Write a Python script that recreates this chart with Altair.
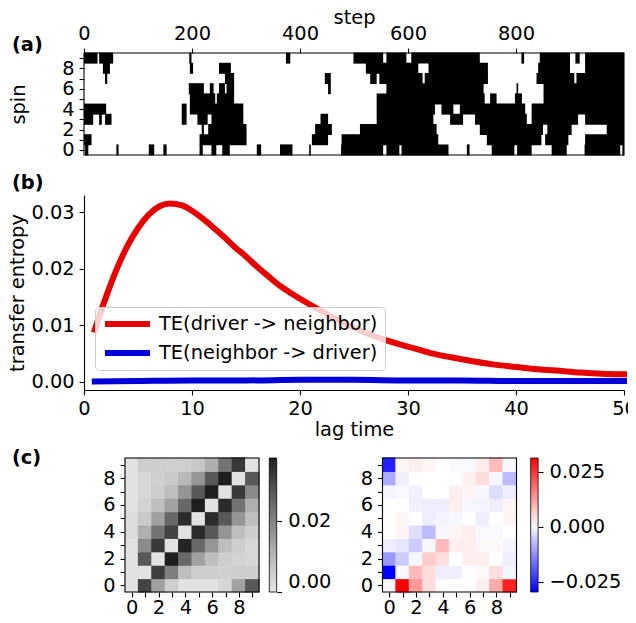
import altair as alt
import pandas as pd

FONT = "DejaVu Sans"
FS = 19.4

# ---------------- (a) spin raster: black runs (start step, end step) per spin row
row0 = [(2, 8), (60, 64), (120, 130), (147, 153), (214, 220), (236, 245), (256, 270), (320, 328),
        (363, 386), (417, 420), (476, 554), (560, 584), (588, 675), (709, 714), (755, 797),
        (802, 829), (866, 894), (927, 993), (997, 1000)]
row1 = [(0, 14), (214, 301), (422, 452), (477, 656), (746, 847), (854, 897), (928, 1000)]
row2 = [(218, 222), (230, 301), (428, 459), (511, 653), (733, 850), (858, 903), (968, 1000)]
row3 = [(0, 17), (28, 33), (39, 51), (181, 190), (210, 229), (236, 295), (438, 452), (542, 647),
        (678, 702), (724, 820), (829, 915), (928, 1000)]
row4 = [(0, 41), (181, 190), (196, 295), (542, 650), (662, 684), (696, 817), (829, 1000)]
row5 = [(196, 243), (246, 278), (542, 742), (752, 764), (798, 811), (851, 1000)]
row6 = [(194, 222), (233, 240), (250, 261), (264, 278), (452, 457), (560, 740), (801, 804), (851, 1000)]
row7 = [(39, 43), (261, 278), (446, 457), (530, 542), (547, 627), (631, 748), (838, 908), (912, 1000)]
row8 = [(35, 48), (196, 202), (250, 272), (522, 619), (638, 748), (841, 900), (928, 1000)]
row9 = [(0, 25), (28, 54), (195, 199), (374, 382), (499, 554), (560, 597), (606, 733), (810, 815),
        (844, 900), (910, 918), (928, 1000)]
spin_rows = [row0, row1, row2, row3, row4, row5, row6, row7, row8, row9]
step_range = [0, 1000]
step_ticks = [0, 200, 400, 600, 800]

# ---------------- (b) transfer entropy vs lag
LAB_DN = "TE(driver -> neighbor)"
LAB_ND = "TE(neighbor -> driver)"
lags_dn = [1, 2, 3, 4, 5, 6, 7, 8, 9, 10, 11, 12, 13, 14, 15, 16, 17, 18, 19, 20,
           22, 24, 26, 28, 30, 32, 34, 36, 38, 40, 42, 44, 46, 48, 50]
te_dn = [0.0092, 0.0148, 0.0198, 0.0240, 0.0272, 0.0296, 0.0311, 0.0316, 0.0313, 0.0303,
         0.0289, 0.0273, 0.0256, 0.0238, 0.0222, 0.0204, 0.0188, 0.0172, 0.0159, 0.0147,
         0.0125, 0.0105, 0.0087, 0.0073, 0.0062, 0.0051, 0.0043, 0.0036, 0.0030, 0.0026,
         0.0022, 0.0019, 0.0016, 0.0014, 0.0013]
lags_nd = [1, 5, 10, 15, 20, 25, 30, 35, 40, 45, 50]
te_nd = [0.0000, 0.0001, 0.0002, 0.0002, 0.0003, 0.0003, 0.0002, 0.0002, 0.0001, 0.0001, 0.0001]
lag_ticks = [0, 10, 20, 30, 40, 50]
te_ticks = [0.0, 0.01, 0.02, 0.03]

# ---------------- (c) pairwise matrices (row = spin i, col = spin j)
te_matrix = [
    [0, 0.0315, 0.0143, 0.0051, 0, 0, 0, 0.0030, 0.0143, 0.0278],
    [0, 0, 0.0323, 0.0206, 0.0086, 0.0051, 0.0051, 0.0047, 0.0051, 0.0051],
    [0, 0.0278, 0, 0.0375, 0.0251, 0.0143, 0.0086, 0.0051, 0.0039, 0.0030],
    [0, 0.0184, 0.0332, 0, 0.0364, 0.0251, 0.0165, 0.0086, 0.0051, 0.0030],
    [0.0015, 0.0116, 0.0229, 0.0315, 0, 0.0353, 0.0278, 0.0165, 0.0086, 0.0051],
    [0.0015, 0.0064, 0.0143, 0.0251, 0.0353, 0, 0.0353, 0.0278, 0.0165, 0.0086],
    [0, 0.0039, 0.0086, 0.0143, 0.0251, 0.0375, 0, 0.0353, 0.0229, 0.0116],
    [0, 0.0030, 0.0051, 0.0086, 0.0165, 0.0278, 0.0375, 0, 0.0332, 0.0184],
    [0, 0.0030, 0.0047, 0.0060, 0.0098, 0.0165, 0.0278, 0.0375, 0, 0.0278],
    [0, 0.0051, 0.0051, 0.0047, 0.0047, 0.0068, 0.0116, 0.0229, 0.0332, 0],
]
diff_matrix = [
    [0, 0.0311, 0.0130, 0.0049, 0.0008, 0.0008, 0.0009, 0.0029, 0.0110, 0.0271],
    [-0.0293, 0, 0.0090, 0.0049, -0.0011, -0.0011, 0.0009, 0.0017, 0.0049, -0.0003],
    [-0.0112, -0.0051, 0, 0.0069, 0.0049, 0.0009, 0.0029, 0.0029, 0.0009, -0.0011],
    [-0.0011, -0.0021, -0.0051, 0, 0.0090, 0.0029, 0.0029, 0.0017, 0.0017, -0.0003],
    [0.0009, 0.0021, -0.0031, -0.0072, 0, 0.0021, 0.0029, 0.0001, 0.0001, 0.0009],
    [0.0009, 0.0021, 0.0009, -0.0011, -0.0003, 0, 0.0009, -0.0011, 0.0009, 0.0021],
    [0.0009, 0.0009, -0.0009, -0.0011, -0.0011, 0.0029, 0, -0.0003, -0.0011, 0.0021],
    [-0.0003, 0.0001, -0.0009, 0.0009, 0.0009, 0.0029, 0.0021, 0, -0.0031, -0.0011],
    [-0.0092, -0.0011, 0.0009, 0.0009, 0.0009, 0.0009, 0.0025, 0.0049, 0, -0.0072],
    [-0.0253, 0.0021, 0.0029, 0.0021, 0.0009, 0.0001, 0.0001, 0.0029, 0.0090, 0],
]
te_range = [0, 0.0375]
diff_range = [-0.0293, 0.0009, 0.0311]
te_cbar_ticks = [0.0, 0.02]
diff_cbar_ticks = [-0.025, 0.0, 0.025]

RED = "#e60000"
BLUE = "#0000d8"
idx = list(range(10))
even_idx = [k for k in idx if k % 2 == 0]
odd_idx = [k for k in idx if k % 2 == 1]
HALF = 0.54  # cells drawn a hair wider than half a cell so neighbours leave no seam

# ---------------- layout (pixel ranges inside one plot area whose origin sits at the panel (a)/(b) corner)
W, H = 540, 539
C_TOP = 405
sx_a = alt.Scale(domain=step_range, range=[0, W], nice=False, zero=False)
sy_a = alt.Scale(domain=[-0.5, 9.5], range=[102, 0], nice=False, zero=False)
sx_b = alt.Scale(domain=[0, 50], range=[0, W], nice=False, zero=False)
sy_b = alt.Scale(domain=[-0.0015, 0.0331], range=[337, 142], nice=False, zero=False)
sx_l = alt.Scale(domain=[-0.5, 9.5], range=[41, 175], nice=False, zero=False)
sx_r = alt.Scale(domain=[-0.5, 9.5], range=[298.5, 432.5], nice=False, zero=False)
sy_c = alt.Scale(domain=[-0.5, 9.5], range=[H, C_TOP], nice=False, zero=False)
CB_W = 7.4
CB_L_X = 185.3
CB_R_X = 446.7

# ---------------- tables
df_a = pd.DataFrame([{"spin": r, "start": s, "end": e}
                     for r, runs in enumerate(spin_rows) for s, e in runs])
df_b = pd.concat([
    pd.DataFrame({"lag": lags_dn, "te": te_dn, "series": LAB_DN}),
    pd.DataFrame({"lag": lags_nd, "te": te_nd, "series": LAB_ND}),
], ignore_index=True)
df_odd = pd.DataFrame({"k": odd_idx})


def mat_df(m):
    return pd.DataFrame([{"i": r, "j": c, "v": m[r][c]} for r in range(10) for c in range(10)])


def frame(x0, x1, y0, y1, sx, sy):
    df = pd.DataFrame({"x0": [x0], "x1": [x1], "y0": [y0], "y1": [y1]})
    return alt.Chart(df).mark_rect(fill="transparent", stroke="black", strokeWidth=1.1).encode(
        x=alt.X("x0:Q", scale=sx, axis=None), x2="x1:Q",
        y=alt.Y("y0:Q", scale=sy, axis=None), y2="y1:Q")


def odd_ticks_y(sy, offset):
    # unlabelled minor ticks on the odd rows
    return alt.Chart(df_odd).mark_point(opacity=0).encode(
        y=alt.Y("k:Q", scale=sy, axis=alt.Axis(orient="left", offset=offset, values=odd_idx,
                                               labels=False, domain=False, title=None)))


def odd_ticks_x(sx):
    return alt.Chart(df_odd).mark_point(opacity=0).encode(
        x=alt.X("k:Q", scale=sx, axis=alt.Axis(orient="bottom", values=odd_idx,
                                               labels=False, domain=False, title=None)))


# ---------------- panel (a)
raster = alt.Chart(df_a).transform_calculate(
    y0=f"datum.spin - {HALF}", y1=f"datum.spin + {HALF}"
).mark_rect(color="black").encode(
    x=alt.X("start:Q", scale=sx_a,
            axis=alt.Axis(orient="top", values=step_ticks, format="d", title="step",
                          titlePadding=-4.2, domain=False)),
    x2="end:Q",
    y=alt.Y("y0:Q", scale=sy_a,
            axis=alt.Axis(orient="left", values=even_idx, title="spin",
                          titlePadding=33.4, domain=False)),
    y2="y1:Q",
)
frame_a = frame(step_range[0], step_range[1], -0.5, 9.5, sx_a, sy_a)

# ---------------- panel (b)
panel_b = alt.Chart(df_b).mark_line(strokeWidth=6, interpolate="monotone", strokeCap="square").encode(
    x=alt.X("lag:Q", scale=sx_b,
            axis=alt.Axis(orient="bottom", offset=-(H - 337), values=lag_ticks, format="d",
                          title="lag time", titlePadding=2)),
    y=alt.Y("te:Q", scale=sy_b,
            axis=alt.Axis(orient="left", values=te_ticks, format=".2f", title="transfer entropy",
                          titlePadding=3.3)),
    color=alt.Color("series:N", scale=alt.Scale(domain=[LAB_DN, LAB_ND], range=[RED, BLUE]),
                    legend=alt.Legend(title=None, orient="none", legendX=11, legendY=254,
                                      symbolType="stroke", symbolSize=2025, symbolStrokeWidth=6,
                                      clipHeight=20, rowPadding=9, labelOffset=6, padding=7,
                                      fillColor="rgba(255,255,255,0.8)", strokeColor="#cccccc",
                                      cornerRadius=4, labelLimit=400)),
)


# ---------------- panel (c)
def cells(m, sx, y_offset, cscale, legend):
    return alt.Chart(mat_df(m)).transform_calculate(
        x0=f"datum.j - {HALF}", x1=f"datum.j + {HALF}", y0=f"datum.i - {HALF}", y1=f"datum.i + {HALF}"
    ).mark_rect().encode(
        x=alt.X("x0:Q", scale=sx,
                axis=alt.Axis(orient="bottom", values=even_idx, domain=False,
                              labelPadding=2, title=None)),
        x2="x1:Q",
        y=alt.Y("y0:Q", scale=sy_c,
                axis=alt.Axis(orient="left", offset=y_offset, values=even_idx,
                              domain=False, title=None)),
        y2="y1:Q",
        color=alt.Color("v:Q", scale=cscale, legend=legend),
    )


def grad_legend(x, values, fmt):
    return alt.Legend(title=None, orient="none", legendX=x, legendY=C_TOP, direction="vertical",
                      type="gradient", gradientLength=H - C_TOP, gradientThickness=CB_W, values=values,
                      format=fmt, labelOffset=11.5, labelBaseline="middle", padding=0,
                      gradientStrokeColor="black", gradientStrokeWidth=0.8)


def cbar_ticks(values, domain, x_right):
    # tick marks on the right edge of a colour bar, placed by the colour bar's own value scale
    return alt.Chart(pd.DataFrame({"v": values})).mark_point(opacity=0).encode(
        y=alt.Y("v:Q", scale=alt.Scale(domain=[domain[0], domain[-1]], range=[H, C_TOP],
                                       nice=False, zero=False),
                axis=alt.Axis(orient="right", offset=x_right - W, values=values, labels=False,
                              domain=False, title=None)),
    )


cells_left = cells(te_matrix, sx_l, -41,
                   alt.Scale(scheme="greys", domain=te_range),
                   grad_legend(CB_L_X, te_cbar_ticks, ".2f"))
cells_right = cells(diff_matrix, sx_r, -298.5,
                    alt.Scale(domain=diff_range, range=["#0000ff", "#ffffff", "#ff0000"], interpolate="rgb"),
                    grad_legend(CB_R_X, diff_cbar_ticks, ".3f"))
frame_left = frame(-0.5, 9.5, -0.5, 9.5, sx_l, sy_c)
frame_right = frame(-0.5, 9.5, -0.5, 9.5, sx_r, sy_c)
ticks_left = cbar_ticks(te_cbar_ticks, te_range, CB_L_X + CB_W)
ticks_right = cbar_ticks(diff_cbar_ticks, diff_range, CB_R_X + CB_W)


# ---------------- panel letters
def letter(t, y):
    return alt.Chart(pd.DataFrame({"t": [t]})).mark_text(
        font=FONT, fontSize=FS, fontWeight="bold", align="left", baseline="middle", color="black"
    ).encode(text="t:N", x=alt.value(-72), y=alt.value(y))


chart = alt.layer(
    raster, frame_a, odd_ticks_y(sy_a, 0),
    panel_b,
    cells_left, frame_left, odd_ticks_y(sy_c, -41), odd_ticks_x(sx_l),
    cells_right, frame_right, odd_ticks_y(sy_c, -298.5), odd_ticks_x(sx_r),
    ticks_left, ticks_right,
    letter("(a)", -8), letter("(b)", 130), letter("(c)", 405),
).resolve_scale(
    x="independent", y="independent", color="independent"
).resolve_axis(x="independent", y="independent").properties(
    width=W, height=H,
    padding={"left": 76, "top": 45, "right": 4, "bottom": 23},
    autosize=alt.AutoSizeParams(type="none"),
).configure_axis(
    labelFont=FONT, titleFont=FONT, labelFontSize=FS, titleFontSize=FS, titleFontWeight="normal",
    labelColor="black", titleColor="black", tickColor="black", domainColor="black",
    tickSize=4.9, tickWidth=1.1, domainWidth=1.1, labelPadding=4.9, grid=False,
    minExtent=0, labelFlush=False
).configure_view(strokeWidth=0).configure_legend(
    labelFont=FONT, labelFontSize=FS, labelColor="black", labelLimit=400
)

chart.save("out.html", embed_options={"renderer": "svg", "actions": False})
